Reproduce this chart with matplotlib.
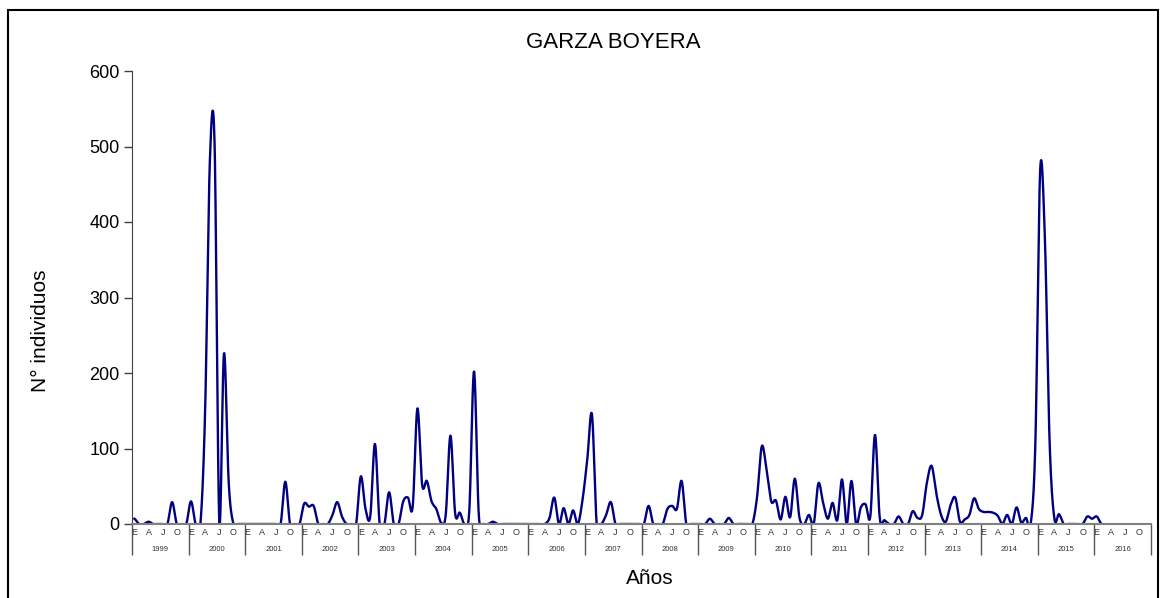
import numpy as np
import matplotlib.pyplot as plt
from matplotlib.patches import Rectangle

plt.rcParams['font.family'] = ['Liberation Sans', 'DejaVu Sans']

# monthly counts (Jan..Dec)
years = list(range(1999, 2017))
month_letters = ['E', 'A', 'J', 'O']

garza_1999 = [7, 0, 0, 3, 0, 0, 0, 0, 29, 0, 0, 0]
garza_2000 = [30, 0, 0, 150, 480, 505, 5, 226, 55, 0, 0, 0]
garza_2001 = [0, 0, 0, 0, 0, 0, 0, 0, 56, 0, 0, 0]
garza_2002 = [27, 23, 24, 0, 0, 0, 12, 29, 10, 0, 0, 0]
garza_2003 = [63, 20, 10, 106, 0, 0, 42, 0, 0, 30, 35, 23]
garza_2004 = [153, 52, 57, 30, 20, 2, 12, 117, 14, 15, 0, 18]
garza_2005 = [202, 13, 0, 0, 3, 0, 0, 0, 0, 0, 0, 0]
garza_2006 = [0, 0, 0, 0, 8, 35, 0, 21, 0, 18, 0, 32]
garza_2007 = [85, 145, 0, 0, 12, 29, 0, 0, 0, 0, 0, 0]
garza_2008 = [0, 24, 0, 0, 0, 20, 24, 20, 57, 0, 0, 0]
garza_2009 = [0, 0, 7, 0, 0, 0, 8, 0, 0, 0, 0, 0]
garza_2010 = [36, 103, 72, 30, 31, 6, 36, 9, 60, 8, 0, 12]
garza_2011 = [0, 54, 28, 7, 28, 5, 59, 0, 57, 0, 22, 26]
garza_2012 = [10, 118, 8, 5, 0, 0, 10, 0, 0, 17, 8, 12]
garza_2013 = [55, 77, 40, 12, 3, 25, 35, 3, 6, 12, 34, 20]
garza_2014 = [16, 16, 15, 11, 0, 12, 0, 22, 2, 8, 0, 110]
garza_2015 = [468, 380, 110, 8, 13, 0, 0, 0, 0, 0, 10, 7]
garza_2016 = [10, 0]

counts = np.array(garza_1999 + garza_2000 + garza_2001 + garza_2002 + garza_2003
                  + garza_2004 + garza_2005 + garza_2006 + garza_2007 + garza_2008
                  + garza_2009 + garza_2010 + garza_2011 + garza_2012 + garza_2013
                  + garza_2014 + garza_2015 + garza_2016, dtype=float)


def smooth_line(values, steps=24):
    # catmull-rom through every point, like the "smoothed line" option in excel
    p = np.concatenate([[values[0]], values, [values[-1]]])
    t = np.linspace(0, 1, steps, endpoint=False)
    h00 = 2 * t**3 - 3 * t**2 + 1
    h10 = t**3 - 2 * t**2 + t
    h01 = -2 * t**3 + 3 * t**2
    h11 = t**3 - t**2
    xs, ys = [], []
    for i in range(len(values) - 1):
        p0, p1, p2, p3 = p[i], p[i + 1], p[i + 2], p[i + 3]
        m1 = (p2 - p0) / 2
        m2 = (p3 - p1) / 2
        xs.append(i + t)
        ys.append(h00 * p1 + h10 * m1 + h01 * p2 + h11 * m2)
    xs.append([len(values) - 1])
    ys.append([values[-1]])
    return np.concatenate(xs), np.concatenate(ys)


fig = plt.figure(figsize=(11.65, 5.98), dpi=100)
ax = fig.add_axes([132 / 1165, 1 - 524 / 598, (1151 - 132) / 1165, (524 - 71) / 598])

sx, sy = smooth_line(counts)
ax.plot(sx, sy, color='#000080', lw=1.7, solid_joinstyle='round')

n_cat = 12 * len(years)
ax.set_xlim(-0.5, n_cat - 0.5)
ax.set_ylim(0, 600)
ax.set_yticks(range(0, 601, 100))

# month letters under each category, year separators as long minor ticks
ax.set_xticks([12 * k + m for k in range(len(years)) for m in (0, 3, 6, 9)])
ax.set_xticklabels(month_letters * len(years))
ax.set_xticks([12 * k - 0.5 for k in range(len(years) + 1)], minor=True)
ax.tick_params(axis='x', which='major', length=0, pad=3, labelsize=6.5, colors='#333333')
ax.tick_params(axis='x', which='minor', length=22, width=1, color='#555555')
ax.tick_params(axis='y', length=6, width=1, color='#404040', labelsize=13, pad=3)

for k, yr in enumerate(years):
    ax.text(12 * k + 5.5, -0.056, str(yr), transform=ax.get_xaxis_transform(),
            ha='center', va='center', fontsize=5.5, color='#333333')

for side in ('top', 'right'):
    ax.spines[side].set_visible(False)
ax.spines['bottom'].set_color('#808080')
ax.spines['bottom'].set_linewidth(1.5)
ax.spines['left'].set_color('#404040')

fig.text(613 / 1165, 1 - 43 / 598, 'GARZA BOYERA', ha='center', va='center', fontsize=16)
fig.text(40 / 1165, 1 - 331 / 598, 'N° individuos', ha='center', va='center',
         rotation=90, fontsize=15)
fig.text(650 / 1165, 1 - 578 / 598, 'Años', ha='center', va='center', fontsize=15)

# outer chart frame, open at the bottom edge
fig.add_artist(Rectangle((8 / 1165, -0.05), 1150 / 1165, 1.05 - 10 / 598,
                         transform=fig.transFigure, fill=False, lw=1.5, ec='black'))

fig.savefig('out.png', dpi=100)
